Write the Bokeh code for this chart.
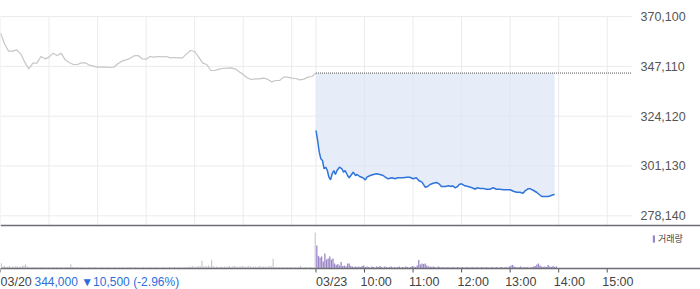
from bokeh.plotting import figure
from bokeh.models import Range1d, Legend, LegendItem, Span
from bokeh.core.properties import value
from bokeh.embed import file_html
from bokeh.resources import INLINE

# ---------------- data ----------------
prev_close = 344000
open_min = 390          # 03/23 session start (minutes from 03/20 09:00)
close_min = 780         # 03/23 15:30

# 03/20 price, every 5 minutes from 09:00
prev_min = list(range(0, 391, 5))
prev_price = [
    362560, 357490, 354100, 354100, 354720, 352870, 349030, 345950, 348570, 348570,
    351640, 350570, 351340, 353180, 352110, 353180, 350100, 348870, 347950, 347950,
    348720, 348720, 347650, 347180, 346720, 346720, 346720, 346570, 346720, 348260,
    349490, 350100, 350720, 351950, 352110, 350570, 350410, 351640, 351340, 351640,
    351490, 351640, 351030, 351180, 351030, 351030, 352870, 354410, 353950, 351340,
    348570, 347950, 345180, 345180, 345800, 346110, 346260, 346420, 345950, 344570,
    343340, 341800, 341030, 341340, 341340, 341650, 341190, 339960, 340570, 340570,
    342110, 342110, 341650, 341490, 340880, 341190, 342110, 342420, 344000,
]

# 03/23 price (minute, price)
today_min = [
    390, 392, 394, 396, 398, 400, 402, 404, 406, 408,
    410, 412, 414, 416, 419, 422, 424, 426, 429, 431,
    434, 436, 439, 441, 444, 448, 451, 453, 457, 461,
    465, 469, 473, 477, 479, 484, 488, 491, 494, 498,
    502, 506, 510, 514, 517, 521, 525, 528, 531, 535,
    539, 542, 545, 550, 554, 557, 559, 562, 565, 567,
    570, 574, 578, 583, 587, 589, 593, 597, 601, 605,
    609, 613, 617, 622, 626, 630, 634, 638, 642, 646,
    648, 652, 655, 659, 663, 666, 669, 673, 677, 680,
    683, 685,
]
today_price = [
    317500, 312890, 307490, 304440, 303660, 299830, 300570, 299040, 295950, 294750,
    297520, 299040, 297200, 299040, 300570, 299830, 298260, 299040, 296740, 295680,
    297200, 298260, 296740, 297200, 296280, 295680, 294750, 295950, 296740, 297200,
    297520, 297200, 296740, 295680, 295220, 295680, 295220, 295680, 295680, 295680,
    295950, 295950, 295220, 295680, 294430, 293650, 291340, 291660, 292590, 293190,
    293510, 292910, 291660, 291660, 291990, 291660, 291990, 291060, 291660, 292590,
    292910, 291990, 291660, 291060, 290420, 291060, 290740, 290740, 290420, 290420,
    291060, 290420, 290420, 290140, 290140, 290140, 289490, 289030, 289030, 288570,
    289490, 290600, 290600, 289820, 288890, 287970, 287050, 287050, 287050, 287370,
    287830, 287970,
]

# volume (thousand shares), 2-minute buckets
prev_vol_min = list(range(1, 390, 2))
prev_vol = [
    5.3, 2, 2.5, 1.5, 2, 2.5, 1.5, 2, 1.5, 2.5,
    2, 1.5, 2, 2.5, 3, 4.3, 2, 1.5, 1, 1.5,
    1, 1.5, 1, 1, 1.5, 1, 1.5, 1, 1, 1.5,
    1, 1, 1.5, 1, 1.5, 1, 1, 1.5, 1, 1,
    1.5, 1, 1.5, 4.3, 1.5, 1, 1, 1.5, 1, 1,
    1.5, 1, 1, 1, 1.5, 1, 1, 1, 1.5, 1,
    1, 1, 1.5, 1, 1, 1, 1.5, 1, 1, 1,
    1.5, 1, 1, 1, 1, 1.5, 1, 1, 1, 1.5,
    1, 1, 1, 1.5, 1, 1, 1, 1, 1.5, 1,
    1, 1, 1.5, 1, 1, 1, 1.5, 1, 1, 1,
    1.5, 1, 1, 1, 1.5, 1, 1, 1.5, 1, 1,
    1.5, 1, 1, 1.5, 1, 1.5, 2, 1.5, 2.5, 2,
    1.5, 2, 2.5, 2, 7.7, 2, 2.5, 2, 3, 2,
    8.7, 2.5, 1.5, 2, 1.5, 1.5, 2, 1.5, 2, 1.5,
    2, 2.5, 1.5, 2, 2.5, 2, 1.5, 2, 2, 2.5,
    2, 1.5, 2, 2.5, 2, 1.5, 2, 2, 1.5, 2,
    2.5, 1.5, 2, 2, 1.5, 2, 2.5, 2, 9.7, 1.5,
    1.5, 1, 1.5, 1, 1.5, 1, 1, 1.5, 1, 1.5,
    1, 1, 1.5, 1, 1.5, 2.7, 1, 1, 1.5, 1,
    1, 1.5, 1, 1, 36,
]
today_vol_min = list(range(391, 688, 2))
today_vol = [
    23, 12.7, 11, 12, 7, 15, 9, 10, 12, 9,
    10, 5, 3.5, 4.5, 3, 6.5, 2.5, 3, 2, 5,
    5, 2.5, 2, 1.5, 2, 1.5, 2, 1.5, 2.5, 3,
    1.5, 2, 1.5, 1, 2, 1.5, 1, 2, 1.5, 2.5,
    1.5, 1, 2, 1.5, 1, 1.5, 2, 1, 1.5, 1,
    1.5, 2, 1, 1.5, 1, 2, 1.5, 1, 1.5, 2.5,
    2, 1.5, 3, 8.5, 4, 5, 4.5, 5, 3, 2,
    2, 1.5, 2, 1.5, 1, 2, 1.5, 1, 1.5, 1,
    1, 1.5, 1, 1, 1.5, 1, 1, 1.5, 1, 1,
    1.5, 1, 1, 1.5, 1, 1, 1.5, 1, 1, 1.5,
    1, 1, 1.5, 1, 1, 1.5, 1, 1, 1.5, 1,
    1, 1.5, 1, 1, 1.5, 1, 1, 1.5, 1, 2,
    3, 3.5, 2, 1.5, 1, 1.5, 2, 1, 1.5, 1,
    1.5, 1, 1, 1.5, 2, 2.5, 4, 5, 3, 2,
    1.5, 2, 1.5, 3.5, 2, 1.5, 2.5, 1.5, 2,
]

y_ticks = [278140, 301130, 324120, 347110, 370100]
x_grid_ticks = [0, 60, 120, 180, 240, 300, 360, 390, 450, 510, 570, 630, 690, 750]
x_label_ticks = [0, 390, 450, 510, 570, 630, 690, 750]
x_labels = ["03/20", "03/23", "10:00", "11:00", "12:00", "13:00", "14:00", "15:00"]
change_text = "344,000 \u25bc10,500 (-2.96%)"
volume_label = "거래량"

# ---------------- layout / style ----------------
W, H = 700, 289
PX_PER_MIN = 631 / 780            # plot area of the price chart ends at 631 px
PX_PER_WON = 1 / 461.41           # price scale
TOP_TICK_PX = 16                  # pixel row of the highest price tick
SEP_PX = 225                      # separator between price and volume panes
VOL_BASE_PX = 268                 # volume baseline / time axis
LABEL_Y = -13.5                   # time labels, px below the baseline

FONT = "Liberation Sans"
GRID = "#ebebeb"
PREV_LINE = "#c6c6c6"
BLUE = "#2f74da"
FILL = "#dbe6f7"
PREV_BAR = "#c3c3c3"
PURPLE = "#9a86c7"
AXIS = "#6b6e73"

price_top = y_ticks[-1] + TOP_TICK_PX / PX_PER_WON
price_bottom = y_ticks[-1] - (H - TOP_TICK_PX) / PX_PER_WON
sep_price = y_ticks[-1] - (SEP_PX - TOP_TICK_PX) / PX_PER_WON

p = figure(width=W, height=H, output_backend="svg", toolbar_location=None,
           x_axis_location=None, y_axis_location=None,
           x_range=Range1d(0, W / PX_PER_MIN),
           y_range=Range1d(price_bottom, price_top),
           min_border=0)
p.extra_y_ranges = {"vol": Range1d(-(H - VOL_BASE_PX), VOL_BASE_PX)}
p.outline_line_color = None
p.grid.visible = False

# grid
p.segment(x0=[0] * len(y_ticks), x1=[close_min] * len(y_ticks),
          y0=y_ticks, y1=y_ticks, line_color=GRID, line_width=1)
p.segment(x0=x_grid_ticks, x1=x_grid_ticks,
          y0=[sep_price] * len(x_grid_ticks), y1=[y_ticks[-1]] * len(x_grid_ticks),
          line_color=GRID, line_width=1)

# price labels on the right
p.text(x=[close_min] * len(y_ticks), y=y_ticks,
       text=[f"{v:,}" for v in y_ticks], x_offset=9,
       text_font=value(FONT), text_font_size="12.5px", text_color="#555555",
       text_align="left", text_baseline="middle")

# price area
p.varea(x=today_min, y1=today_price, y2=[prev_close] * len(today_min),
        fill_color=FILL, fill_alpha=0.7)
p.segment(x0=[open_min], x1=[close_min], y0=[prev_close], y1=[prev_close],
          line_color="#555555", line_dash="1 1", line_width=1)
p.line(prev_min, prev_price, line_color=PREV_LINE, line_width=1.2)
p.line(today_min, today_price, line_color=BLUE, line_width=1.5)

# separator
p.add_layout(Span(location=VOL_BASE_PX - SEP_PX, dimension="width",
                  y_range_name="vol", line_color=AXIS, line_width=1.5))

# volume
p.vbar(x=prev_vol_min, top=prev_vol, width=1.3, fill_color=PREV_BAR,
       line_color=None, y_range_name="vol")
r_today = p.vbar(x=today_vol_min, top=today_vol, width=1.6,
                 fill_color=PURPLE, line_color=None, y_range_name="vol")

# time axis
p.add_layout(Span(location=0, dimension="width", y_range_name="vol",
                  line_color=AXIS, line_width=1.5))
p.segment(x0=x_label_ticks, x1=x_label_ticks,
          y0=[0] * len(x_label_ticks), y1=[-4] * len(x_label_ticks),
          line_color="#555555", line_width=1, y_range_name="vol")
label_dx = [0, 0, -4, -4, -4, -5, -5, -5]
for t, s, dx in zip(x_label_ticks, x_labels, label_dx):
    p.text(x=[t], y=[LABEL_Y], text=[s], x_offset=dx, y_range_name="vol",
           text_font=value(FONT), text_font_size="12.5px", text_color="#444444",
           text_align="left", text_baseline="middle")
p.text(x=[x_label_ticks[0]], y=[LABEL_Y], text=[change_text], x_offset=34,
       y_range_name="vol", text_font=value(FONT), text_font_size="12px",
       text_color="#2a6fd8", text_align="left", text_baseline="middle")

leg = Legend(items=[LegendItem(label=volume_label, renderers=[r_today])],
             location=(652, 44), orientation="vertical",
             glyph_width=3, glyph_height=9, label_standoff=3,
             padding=0, margin=0, spacing=0,
             label_text_font="Noto Sans CJK KR", label_text_font_size="9px",
             label_text_color="#444444", label_height=9,
             border_line_color=None, background_fill_alpha=0)
p.add_layout(leg)

open("out.html", "w").write(file_html(p, INLINE))
